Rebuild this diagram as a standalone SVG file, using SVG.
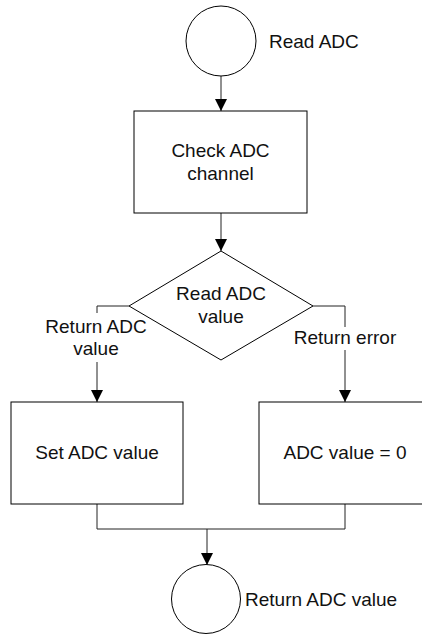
<svg xmlns="http://www.w3.org/2000/svg" width="422" height="634" viewBox="0 0 422 634">
<style>
.s{fill:#fff;stroke:#000;stroke-width:1}
.c{fill:none;stroke:#222;stroke-width:1}
text{font-family:"Liberation Sans",Arial,sans-serif;font-size:19px;fill:#111}
.m{text-anchor:middle}
</style>
<defs>
<marker id="ah" markerUnits="userSpaceOnUse" markerWidth="12" markerHeight="12" refX="12" refY="6" orient="auto">
<path d="M0,0 L12,6 L0,12 z" fill="#000"/>
</marker>
</defs>
<rect width="422" height="634" fill="#fff"/>
<g id="connectors">
<line class="c" x1="221" y1="76" x2="221" y2="111" marker-end="url(#ah)"/>
<line class="c" x1="221" y1="213" x2="221" y2="251" marker-end="url(#ah)"/>
<polyline class="c" points="129,306 97,306 97,313"/>
<line class="c" x1="97" y1="362" x2="97" y2="402" marker-end="url(#ah)"/>
<polyline class="c" points="313,306 345,306 345,327"/>
<line class="c" x1="345" y1="350" x2="345" y2="402" marker-end="url(#ah)"/>
<polyline class="c" points="97,504 97,529 345,529 345,504"/>
<line class="c" x1="207" y1="529" x2="207" y2="565" marker-end="url(#ah)"/>
<text class="m" x="96" y="333">Return ADC</text>
<text class="m" x="96" y="355">value</text>
<text class="m" x="345" y="344">Return error</text>
</g>
<g id="start">
<circle class="s" cx="221" cy="41" r="35"/>
<text x="269" y="48">Read ADC</text>
</g>
<g id="check">
<rect class="s" x="134" y="111" width="173" height="102"/>
<text class="m" x="220.5" y="157">Check ADC</text>
<text class="m" x="220.5" y="180">channel</text>
</g>
<g id="decision">
<polygon class="s" points="221,251 313,306 221,360 129,306"/>
<text class="m" x="221" y="300">Read ADC</text>
<text class="m" x="221" y="323">value</text>
</g>
<g id="set">
<rect class="s" x="11" y="402" width="172" height="102"/>
<text class="m" x="97" y="459">Set ADC value</text>
</g>
<g id="zero">
<rect class="s" x="259" y="402" width="172" height="102"/>
<text class="m" x="345" y="459">ADC value = 0</text>
</g>
<g id="end">
<circle class="s" cx="206" cy="599" r="34.5"/>
<text x="245" y="606">Return ADC value</text>
</g>
</svg>
